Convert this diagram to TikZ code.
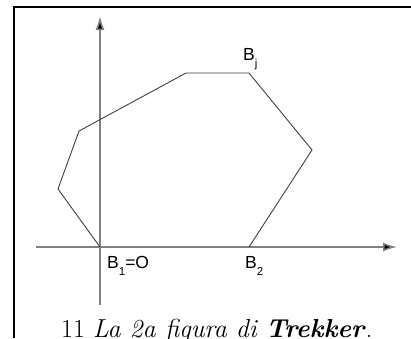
\documentclass[tikz,border=0pt]{standalone}
\usepackage{fontspec}
\newfontfamily\labelfont{Liberation Sans}
\usetikzlibrary{arrows.meta}
\begin{document}
\begin{tikzpicture}[x=1pt,y=-1pt,
  axis/.style={draw=black!50, line width=1.5pt, -{Latex[length=14pt,width=9pt,fill=black]}},
  poly/.style={draw=black!75, line width=0.9pt, line join=miter},
  frameline/.style={draw=black, line width=2.2pt},
  lbl/.style={font=\labelfont\fontsize{17.5}{17.5}\selectfont, inner sep=0pt, anchor=base west},
  capt/.style={font=\fontsize{26}{30}\selectfont, inner sep=0pt, anchor=base west}]
\useasboundingbox (0,0) rectangle (411,338);
\newcommand{\sbx}[1]{\raisebox{-7pt}{\fontsize{11.5}{11.5}\selectfont #1}}
% frame (left and top)
\draw[frameline] (14,338) -- (14,7) -- (411,7);
% polygon vertices
\coordinate (O) at (100,247);
\coordinate (P1) at (58,189);
\coordinate (P2) at (79,131);
\coordinate (P3) at (186,73);
\coordinate (Bj) at (249,73);
\coordinate (P5) at (312,150);
\coordinate (B2) at (249,247);
% axes
\coordinate (xs) at (36,247);
\coordinate (xe) at (397,247);
\coordinate (ys) at (100,305);
\coordinate (ye) at (100,16);
\draw[axis] (xs) -- (xe);
\draw[axis] (ys) -- (ye);
% polygon
\draw[poly] (O) -- (P1) -- (P2) -- (P3) -- (Bj) -- (P5) -- (B2);
% labels
\node[lbl] (lBj) at (243,60) {B\sbx{j}};
\node[lbl] (lO) at (107,268) {B\sbx{1}=O};
\node[lbl] (lB2) at (245,268) {B\sbx{2}};
% caption
\node[capt] (cap) at (61,337) {11 \textit{La 2a figura di} \textbf{\textit{Trekker}}.};
\end{tikzpicture}
\end{document}
